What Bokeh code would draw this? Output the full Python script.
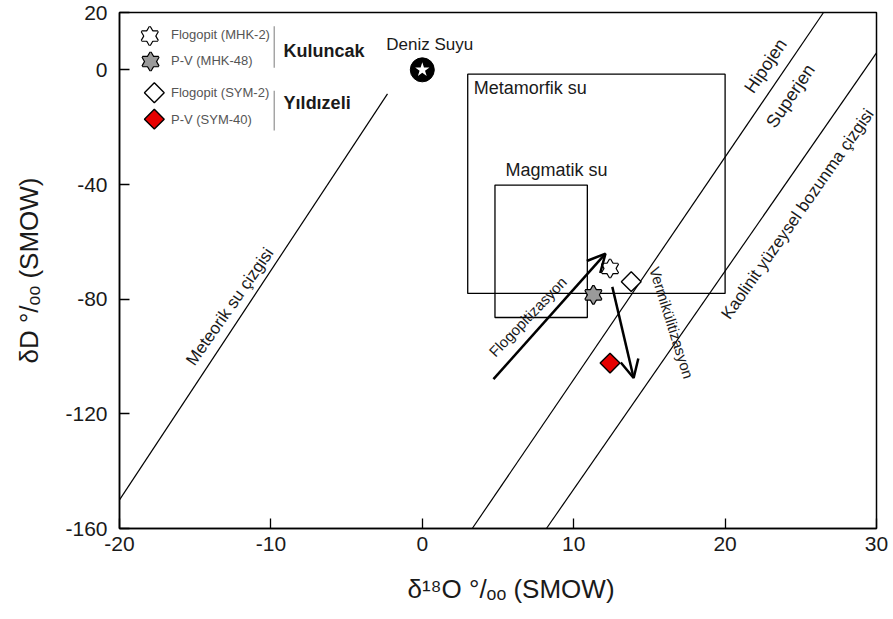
import numpy as np
from bokeh.plotting import figure
from bokeh.models import Range1d, FixedTicker, Arrow, OpenHead
from bokeh.core.properties import value
from bokeh.embed import file_html
from bokeh.resources import INLINE

# ---------------- data ----------------
sample_labels = ["Flogopit (MHK-2)", "P-V (MHK-48)", "Flogopit (SYM-2)", "P-V (SYM-40)"]
sample_d18O = [12.4, 11.3, 13.8, 12.4]
sample_dD = [-69.3, -78.5, -73.9, -102.3]
group_labels = ["Kuluncak", "Yıldızeli"]

seawater_d18O = [0.0]
seawater_dD = [0.0]

meteoric_d18O = [-20.0, -2.3]
meteoric_dD = [-150.0, -8.4]
hypogene_d18O = [3.3, 26.5]
hypogene_dD = [-160.0, 20.0]
kaolinite_d18O = [8.2, 30.0]
kaolinite_dD = [-160.0, 5.9]

metamorphic_d18O = [3.0, 20.0]
metamorphic_dD = [-78.0, -1.5]
magmatic_d18O = [4.8, 10.9]
magmatic_dD = [-86.4, -40.2]

phlogopitization_d18O = [4.7, 12.1]
phlogopitization_dD = [-107.9, -64.1]
vermiculitization_d18O = [12.55, 13.96]
vermiculitization_dD = [-75.7, -107.5]

x_ticks = [-20, -10, 0, 10, 20, 30]
y_ticks = [-160, -120, -80, -40, 0, 20]

# ---------------- styles / layout ----------------
REG = value("Liberation Sans")
INK = "#1a1a1a"

p = figure(width=893, height=619, output_backend="svg", toolbar_location=None,
           x_range=Range1d(-20, 30), y_range=Range1d(-160, 20),
           min_border_left=119, min_border_right=17, min_border_top=12,
           min_border_bottom=91)
p.grid.visible = False
p.outline_line_color = "black"
p.outline_line_width = 1.5
p.background_fill_color = "white"
p.border_fill_color = "white"

p.xaxis.ticker = FixedTicker(ticks=x_ticks)
p.yaxis.ticker = FixedTicker(ticks=y_ticks)
p.xaxis.major_label_overrides = {t: str(t) for t in x_ticks}
p.yaxis.major_label_overrides = {t: str(t) for t in y_ticks}
for ax in (p.xaxis[0], p.yaxis[0]):
    ax.major_tick_in = 10
    ax.major_tick_out = 0
    ax.minor_tick_line_color = None
    ax.axis_line_color = "black"
    ax.axis_line_width = 1.5
    ax.major_tick_line_width = 1.3
    ax.major_label_text_font = "Liberation Sans"
    ax.major_label_text_font_size = "21px"
    ax.major_label_text_color = INK
    ax.axis_label_text_font = "Liberation Sans"
    ax.axis_label_text_font_size = "26px"
    ax.axis_label_text_font_style = "normal"
    ax.axis_label_text_color = INK
p.xaxis.major_label_standoff = 8
p.yaxis.major_label_standoff = 12
p.xaxis.axis_label_standoff = 20
p.yaxis.axis_label_standoff = 18
p.xaxis.axis_label = "\u2003δ¹⁸O °/ₒₒ (SMOW)"
p.yaxis.axis_label = "δD °/ₒₒ (SMOW)"

# reference lines
for xs, ys in [(meteoric_d18O, meteoric_dD), (hypogene_d18O, hypogene_dD),
               (kaolinite_d18O, kaolinite_dD)]:
    p.line(xs, ys, line_color="black", line_width=1.2)

# water boxes
for xs, ys in [(metamorphic_d18O, metamorphic_dD), (magmatic_d18O, magmatic_dD)]:
    p.quad(left=[xs[0]], right=[xs[1]], bottom=[ys[0]], top=[ys[1]],
           fill_color=None, line_color="black", line_width=1.3)

# arrows
for xs, ys in [(phlogopitization_d18O, phlogopitization_dD),
               (vermiculitization_d18O, vermiculitization_dD)]:
    p.add_layout(Arrow(end=OpenHead(size=18, line_width=2.5, line_color="black"),
                       x_start=xs[0], y_start=ys[0], x_end=xs[1], y_end=ys[1],
                       line_width=2.5, line_color="black"))

# markers
def hexagram(x, y, fill, size=16):
    for m in ("triangle", "inverted_triangle"):
        p.scatter(x, y, marker=m, size=size, fill_color=fill,
                  line_color="black", line_width=2.4)
    for m in ("triangle", "inverted_triangle"):
        p.scatter(x, y, marker=m, size=size, fill_color=fill, line_color=None)

def diamond(x, y, fill, size=14):
    p.scatter(x, y, marker="square", angle=np.pi / 4, size=size,
              fill_color=fill, line_color="black", line_width=1.4)

sample_fill = ["white", "#9a9a9a", "white", "#e60000"]
sample_kind = ["star", "star", "diamond", "diamond"]
for i in range(4):
    if sample_kind[i] == "star":
        hexagram([sample_d18O[i]], [sample_dD[i]], sample_fill[i])
    else:
        diamond([sample_d18O[i]], [sample_dD[i]], sample_fill[i])

# sea water
p.scatter(seawater_d18O, seawater_dD, marker="circle", size=24,
          fill_color="black", line_color="black")
p.scatter(seawater_d18O, seawater_dD, marker="star", size=15,
          fill_color="white", line_color=None)

# ---------------- annotations ----------------
def txt(x, y, s, size, angle=0, align="center", color=INK, style="normal"):
    p.text(x=[x], y=[y], text=[s], angle=angle, angle_units="deg",
           text_font=REG, text_font_size=size, text_align=align,
           text_baseline="middle", text_color=color, text_font_style=style)

txt(0.49, 8.7, "Deniz Suyu", "17px")
txt(3.4, -6.3, "Metamorfik su", "18px", align="left")
txt(5.5, -35.1, "Magmatik su", "18px", align="left")
txt(22.67, 1.4, "Hipojen", "18px", angle=56)
txt(24.32, -9.1, "Superjen", "18px", angle=56)
txt(24.79, -50.3, "Kaolinit yüzeysel bozunma çizgisi", "17px", angle=55)
txt(-12.71, -82.6, "Meteorik su çizgisi", "17px", angle=55)
txt(6.96, -86.1, "Flogopitizasyon", "15px", angle=46)
txt(16.47, -88.2, "Vermikülitizasyon", "15px", angle=-72.5)

# legend (layout positions in data units)
leg_mark_x = [-18.0, -17.95, -17.7, -17.7]
leg_mark_y = [11.8, 2.9, -8.0, -17.2]
leg_text_x = -16.6
leg_text_y = [12.2, 3.1, -8.0, -17.3]
for i in range(4):
    if sample_kind[i] == "star":
        hexagram([leg_mark_x[i]], [leg_mark_y[i]], sample_fill[i])
    else:
        diamond([leg_mark_x[i]], [leg_mark_y[i]], sample_fill[i])
    txt(leg_text_x, leg_text_y[i], sample_labels[i], "13px",
        align="left", color="#555555")

p.segment(x0=[-9.78, -9.78], y0=[15.2, -7.3], x1=[-9.78, -9.78], y1=[0.7, -21.2],
          line_color="#999999", line_width=1.3)
txt(-9.16, 6.5, group_labels[0], "18px", align="left", style="bold")
txt(-9.16, -11.5, group_labels[1], "18px", align="left", style="bold")

open("out.html", "w").write(file_html(p, INLINE))
